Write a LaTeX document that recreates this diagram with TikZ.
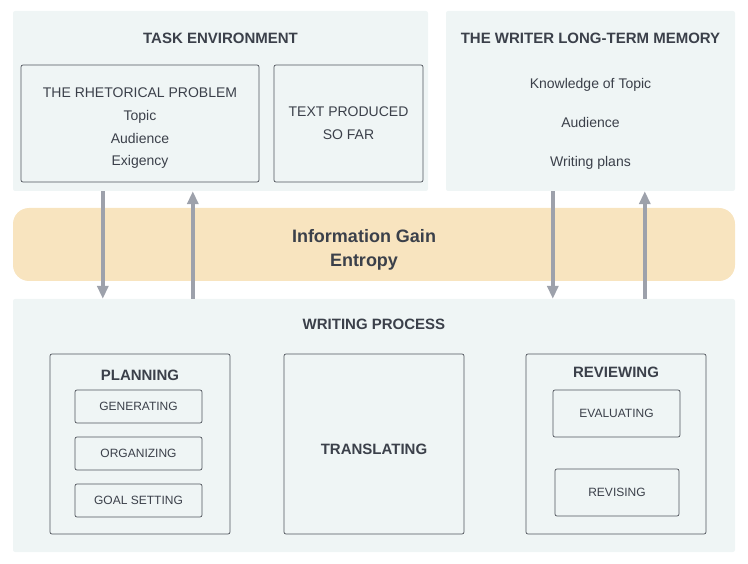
\documentclass[tikz,border=0pt]{standalone}
\usepackage{fontspec}
\setmainfont{Liberation Sans}
\usetikzlibrary{arrows.meta,positioning}
\definecolor{panelFill}{HTML}{EFF5F5}
\definecolor{bandFill}{HTML}{F8E4BF}
\definecolor{inkGray}{HTML}{3B404A}
\definecolor{edgeGray}{HTML}{50545C}
\definecolor{flowGray}{HTML}{9DA1AB}

\begin{document}
\begin{tikzpicture}[
    x=1pt, y=-1pt,
    every node/.style={text=inkGray, align=center},
    panel/.style 2 args={fill=panelFill, minimum width=#1, minimum height=#2, inner sep=0pt, rounded corners=2pt},
    box/.style 2 args={draw=edgeGray, line width=0.7pt, fill=panelFill, minimum width=#1, minimum height=#2, inner sep=0pt, rounded corners=2pt},
    head/.style={font=\fontsize{15}{17}\selectfont\bfseries},
    body/.style={font=\fontsize{14}{22.7}\selectfont},
    small/.style={font=\fontsize{12}{14}\selectfont},
    flow/.style={-{Triangle[length=13pt,width=11pt]}, line width=3.5pt, draw=flowGray}
]
    \useasboundingbox (0,0) rectangle (748,564);

    % upper panels
    \node[panel={415pt}{180pt}] (task) at (220.5,101) {};
    \node[head] (tasklbl) at (220.5,38) {TASK ENVIRONMENT};
    \node[box={238pt}{117pt}] (rhet) at (140,123.5) {};
    \node[body] (rhetlbl) at (140,128.5) {THE RHETORICAL PROBLEM\\Topic\\Audience\\Exigency};
    \node[box={149pt}{117pt}, body] (sofar) at (348.5,123.5) {TEXT PRODUCED\\SO FAR};

    \node[panel={289pt}{180pt}] (memory) at (590.5,101) {};
    \node[head] (memlbl) at (590.5,38) {THE WRITER LONG-TERM MEMORY};
    \node[font=\fontsize{14}{39}\selectfont] (memlist) at (590.5,124) {Knowledge of Topic\\Audience\\Writing plans};

    % band in the middle
    \node[fill=bandFill, minimum width=722pt, minimum height=73pt, inner sep=0pt, rounded corners=16pt] (band) at (374,244.5) {};
    \node[font=\fontsize{18}{24}\selectfont\bfseries] (gain) at (364,250) {Information Gain\\Entropy};

    % writing process
    \node[panel={722pt}{253pt}] (writing) at (374,425.5) {};
    \node[head] (writlbl) at (374,324) {WRITING PROCESS};

    \node[box={180pt}{180pt}] (plan) at (140,444) {};
    \node[head] (planlbl) at (140,375) {PLANNING};
    \node[box={127pt}{33pt}, small] (gen) at (138.5,406.5) {GENERATING};
    \node[box={127pt}{33pt}, small] (org) at (138.5,453.5) {ORGANIZING};
    \node[box={127pt}{33pt}, small] (goal) at (138.5,500.5) {GOAL SETTING};

    \node[box={180pt}{180pt}] (trans) at (374,444) {};
    \node[head] (translbl) at (374,449) {TRANSLATING};

    \node[box={180pt}{180pt}] (review) at (616,444) {};
    \node[head] (revlbl) at (616,372) {REVIEWING};
    \node[box={127pt}{47pt}, small] (eval) at (616.5,413.5) {EVALUATING};
    \node[box={124pt}{47pt}, small] (revise) at (617,492.5) {REVISING};

    % exchanges through the band
    \draw[flow] ([xshift=90pt]task.south west) -- ([xshift=90pt]writing.north west);
    \draw[flow] ([xshift=180pt]writing.north west) -- ([xshift=180pt]task.south west);
    \draw[flow] ([xshift=107pt]memory.south west) -- ([xshift=540pt]writing.north west);
    \draw[flow] ([xshift=632pt]writing.north west) -- ([xshift=199pt]memory.south west);
\end{tikzpicture}
\end{document}
